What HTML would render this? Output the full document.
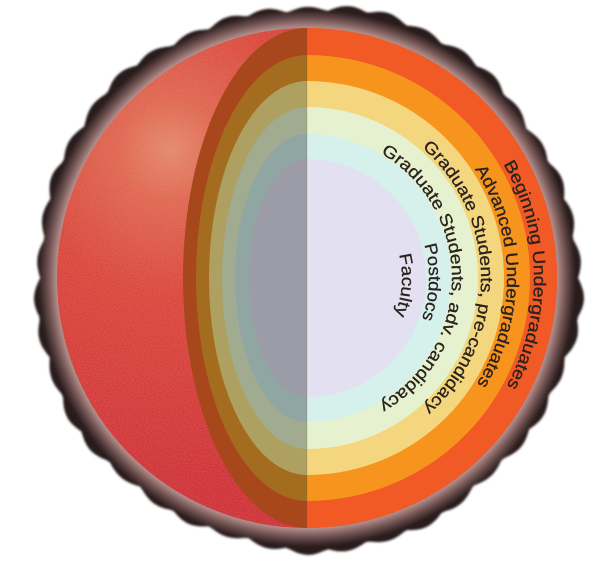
<!DOCTYPE html>
<html><head><meta charset="utf-8"><style>
html,body{margin:0;padding:0;background:#fff;}
svg{display:block;}
</style></head><body>
<svg id="fig" width="600" height="564" viewBox="0 0 600 564" xmlns="http://www.w3.org/2000/svg">
<defs>
<radialGradient id="halo" gradientUnits="userSpaceOnUse" cx="307" cy="278" r="282">
<stop offset="0" stop-color="#c49c98"/>
<stop offset="0.885" stop-color="#b89490"/>
<stop offset="0.92" stop-color="#6e5050"/>
<stop offset="0.95" stop-color="#2d2020"/>
<stop offset="1" stop-color="#1e1414"/>
</radialGradient>
<radialGradient id="redball" gradientUnits="userSpaceOnUse" cx="170" cy="150" r="340">
<stop offset="0" stop-color="#e2886a"/>
<stop offset="0.15" stop-color="#de6450"/>
<stop offset="0.42" stop-color="#d8423a"/>
<stop offset="1" stop-color="#cc2c36"/>
</radialGradient>
<filter id="noise" x="0" y="0" width="100%" height="100%">
<feTurbulence type="fractalNoise" baseFrequency="0.9" numOctaves="2" seed="3" result="t"/>
<feColorMatrix in="t" type="matrix" values="0 0 0 0 0.95  0 0 0 0 0.45  0 0 0 0 0.3  0 0 0 1.2 -0.3"/>
</filter>
<filter id="soft"><feGaussianBlur stdDeviation="1"/></filter>
<clipPath id="ballclip"><circle cx="307" cy="278" r="250"/></clipPath>
<clipPath id="leftclip"><rect x="0" y="0" width="307" height="564"/></clipPath>
<clipPath id="rightclip"><rect x="307" y="0" width="293" height="564"/></clipPath>
</defs>
<path id="halo-path" fill="url(#halo)" filter="url(#soft)"/>
<g>
<circle cx="307" cy="278" r="250" fill="url(#redball)"/>
<rect x="50" y="20" width="520" height="520" fill="#fff" filter="url(#noise)" clip-path="url(#ballclip)" opacity="0.4"/>
</g>
<g id="left-layers" clip-path="url(#leftclip)"></g>
<g id="right-layers" clip-path="url(#rightclip)"></g>
<g id="labels" font-family="'Liberation Sans', sans-serif" font-size="17" fill="#2a221f" stroke="#2a221f" stroke-width="0.3"></g>
</svg>
<script>
var NS='http://www.w3.org/2000/svg';
var layerNames=['beginning-undergraduates','advanced-undergraduates','grad-pre-candidacy','grad-adv-candidacy','postdocs','faculty'];
var radii=[250,223,197,171,144,119];
var leftRx=[124,111,98,85,72,58];
var rightColors=['#f15a24','#f7941d','#f3d67e','#e6f2cf','#d6f0ec','#e3e0f2'];
var leftColors=['#a8461c','#a36c1e','#aea060','#a1ab8f','#8fa6a3','#9c9ba8'];
var labels=['Beginning Undergraduates','Advanced Undergraduates','Graduate Students, pre-candidacy','Graduate Students, adv. candidacy','Postdocs','Faculty'];
var labelR=[233,206,180,151,128,101];
var labelY0=[161,166,143,148,243,253];
var labelY1=[389,387,412,409,321,317];
var CX=307,CY=278;

(function(){
  var d='',n=400;
  for(var i=0;i<=n;i++){
    var a=i/n*2*Math.PI;
    var r=269+5*Math.abs(Math.sin(a*21))+2.5*Math.sin(a*5+1)+1.5*Math.sin(a*13);
    var x=CX+r*Math.cos(a),y=CY+r*Math.sin(a);
    d+=(i?'L':'M')+x.toFixed(1)+' '+y.toFixed(1);
  }
  document.getElementById('halo-path').setAttribute('d',d+'Z');
})();

var lg=document.getElementById('left-layers'),rg=document.getElementById('right-layers');
for(var i=0;i<radii.length;i++){
  var e=document.createElementNS(NS,'ellipse');
  e.setAttribute('cx',CX);e.setAttribute('cy',CY);
  e.setAttribute('rx',leftRx[i]);e.setAttribute('ry',radii[i]);
  e.setAttribute('fill',leftColors[i]);
  
  
  lg.appendChild(e);
  var c=document.createElementNS(NS,'circle');
  c.setAttribute('cx',CX);c.setAttribute('cy',CY);c.setAttribute('r',radii[i]);
  c.setAttribute('fill',rightColors[i]);
  
  
  rg.appendChild(c);
}
var dv=document.createElementNS(NS,'line');
dv.setAttribute('x1',CX);dv.setAttribute('x2',CX);dv.setAttribute('y1',CY-250);dv.setAttribute('y2',CY+250);
dv.setAttribute('stroke','#8a5a40');dv.setAttribute('stroke-opacity','0.25');dv.setAttribute('stroke-width','1');


document.getElementById('fig').insertBefore(dv,document.getElementById('labels'));

var lb=document.getElementById('labels');
for(var i=0;i<labels.length;i++){
  var rc=labelR[i],rb=rc-6;
  var a0=Math.asin(Math.max(-1,Math.min(1,(labelY0[i]-CY)/rc)));
  var a1=Math.asin(Math.max(-1,Math.min(1,(labelY1[i]-CY)/rc)));
  var am=(a0+a1)/2,span=85*Math.PI/180;
  var s=am-span,t=am+span;
  var p=document.createElementNS(NS,'path');
  p.setAttribute('id','lp'+i);
  p.setAttribute('fill','none');
  p.setAttribute('stroke','none');
  p.setAttribute('d','M'+(CX+rb*Math.cos(s)).toFixed(2)+' '+(CY+rb*Math.sin(s)).toFixed(2)+
    ' A'+rb+' '+rb+' 0 0 1 '+(CX+rb*Math.cos(t)).toFixed(2)+' '+(CY+rb*Math.sin(t)).toFixed(2));
  lb.appendChild(p);
  var tx=document.createElementNS(NS,'text');
  
  
  var tp=document.createElementNS(NS,'textPath');
  tp.setAttribute('href','#lp'+i);
  tp.setAttribute('startOffset','50%');
  tp.setAttribute('text-anchor','middle');
  tp.setAttribute('textLength',((a1-a0)*rb).toFixed(1));
  tp.setAttribute('lengthAdjust','spacingAndGlyphs');
  tp.textContent=labels[i];
  tx.appendChild(tp);
  lb.appendChild(tx);
}
</script>
</body></html>
